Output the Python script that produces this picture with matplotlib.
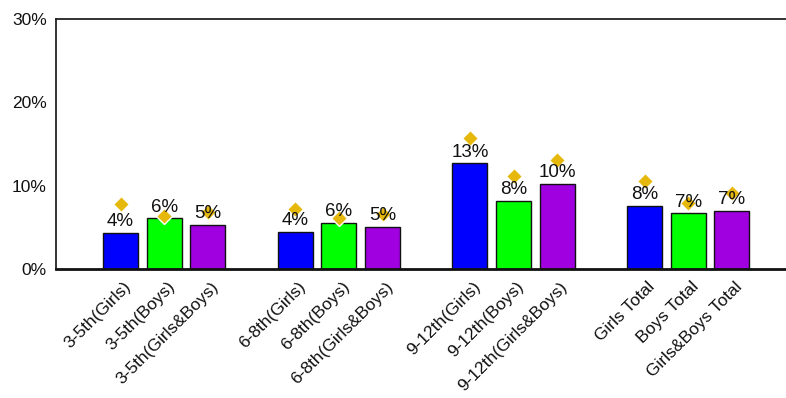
import numpy as np
import matplotlib
matplotlib.use("Agg")
from matplotlib import pyplot as plt
from matplotlib.transforms import ScaledTranslation

plt.rcParams['font.family'] = ['Liberation Sans', 'DejaVu Sans']

categories = [
    '3-5th(Girls)', '3-5th(Boys)', '3-5th(Girls&Boys)',
    '6-8th(Girls)', '6-8th(Boys)', '6-8th(Girls&Boys)',
    '9-12th(Girls)', '9-12th(Boys)', '9-12th(Girls&Boys)',
    'Girls Total', 'Boys Total', 'Girls&Boys Total',
]
# bar values (%)
values = [4.4, 6.1, 5.3,
          4.5, 5.6, 5.1,
          12.7, 8.2, 10.2,
          7.6, 6.7, 7.0]
# diamond markers (%)
markers = [7.8, 6.4, 6.9,
           7.2, 6.2, 6.6,
           15.7, 11.2, 13.1,
           10.6, 8.0, 9.2]
colors = ['#0000FF', '#00FF00', '#A000E0'] * 4

# one empty slot between each group of three bars
x = np.arange(len(categories)) + np.arange(len(categories)) // 3

fig = plt.figure(figsize=(7.86, 3.98), dpi=100)
ax = fig.add_axes([56 / 786, 0.3234, 1 - 56 / 786, 0.629])

bars = ax.bar(x, values, width=0.8, color=colors, edgecolor='#111111',
              linewidth=1.0, zorder=2)
ax.plot(x, markers, linestyle='none', marker='D', markersize=8,
        color='#E5B80B', markeredgecolor='white', markeredgewidth=1.0,
        zorder=3)
labels = ax.bar_label(bars, fmt='{:.0f}%', padding=2, fontsize=13.5,
                      color='#111111')
for t in labels:
    t.set_zorder(4)

ax.set_xlim(-1.48, 15.24)
ax.set_ylim(0, 30)
ax.set_yticks([0, 10, 20, 30])
ax.set_yticklabels(['0%', '10%', '20%', '30%'])
ax.tick_params(axis='y', length=0, pad=6.5, labelsize=12.5, labelcolor='#111111')

ax.set_xticks(x)
ax.set_xticklabels(categories, rotation=45, ha='right', va='top',
                   rotation_mode='anchor', fontsize=12.5, color='#111111')
ax.tick_params(axis='x', length=0, pad=7)
shift = ScaledTranslation(2 / 72, 0, fig.dpi_scale_trans)
for lbl in ax.get_xticklabels():
    lbl.set_transform(lbl.get_transform() + shift)

for side in ['left', 'top']:
    ax.spines[side].set_linewidth(1.3)
    ax.spines[side].set_color('#222222')
ax.spines['bottom'].set_linewidth(2)
ax.spines['bottom'].set_color('#111111')
ax.spines['right'].set_visible(False)

fig.savefig('out.png', dpi=100)
